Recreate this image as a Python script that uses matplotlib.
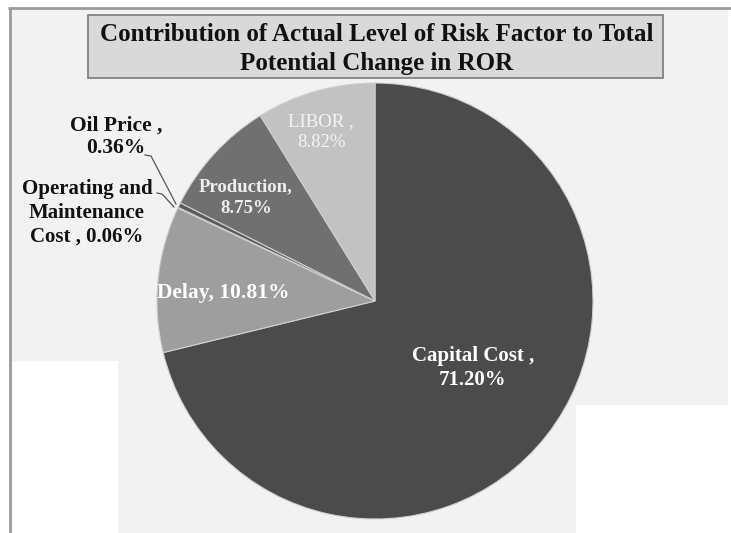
import matplotlib
matplotlib.use("Agg")
import matplotlib.pyplot as plt
from matplotlib.patches import Rectangle, Polygon

# ---- data ----
categories = ["Capital Cost", "Delay", "Operating and Maintenance Cost", "Oil Price", "Production", "LIBOR"]
values = [71.20, 10.81, 0.06, 0.36, 8.75, 8.82]
title = "Contribution of Actual Level of Risk Factor to Total\nPotential Change in ROR"

colors = ["#4b4b4b", "#9e9e9e", "#5a5a5a", "#5a5a5a", "#707070", "#c2c2c2"]

W, H = 731, 533
fig = plt.figure(figsize=(W / 100, H / 100), dpi=100)
ax = fig.add_axes([0, 0, 1, 1])
ax.set_xlim(0, W)
ax.set_ylim(0, H)
ax.axis("off")

def Y(y):  # pixel row -> data y
    return H - y

# background panel
bg = Polygon([(10, Y(9)), (728, Y(9)), (728, Y(405)), (576, Y(405)), (576, Y(533)),
              (118, Y(533)), (118, Y(361)), (12, Y(361)), (12, Y(533)), (10, Y(533))],
             closed=True, facecolor="#f2f2f2", edgecolor="none", zorder=0)
ax.add_patch(bg)
ax.plot([8, 731], [Y(8), Y(8)], color="#9a9a9a", lw=2, zorder=1, solid_capstyle="butt")
ax.plot([10, 10], [Y(8), Y(533)], color="#9a9a9a", lw=2, zorder=1, solid_capstyle="butt")

# title box
ax.add_patch(Rectangle((88, Y(78)), 575, 63, facecolor="#d9d9d9", edgecolor="#7a7a7a", lw=1.2, zorder=2))
ax.text(377, Y(49), title, ha="center", va="center", fontsize=18, fontweight="bold",
        family="Liberation Serif", color="#111111", linespacing=1.3, zorder=3)

# pie
cx, cy, r = 375, Y(301), 218
wedges, _ = ax.pie(values, colors=colors, startangle=90, counterclock=False,
                   center=(cx, cy), radius=r, frame=True,
                   wedgeprops=dict(edgecolor="#cfcfcf", linewidth=0.8))
for w in wedges:
    w.set_zorder(4)
ax.set_xlim(0, W)
ax.set_ylim(0, H)
ax.axis("off")

serif = "Liberation Serif"
# inner labels
ax.text(473, Y(368), f"{categories[0]} ,\n{values[0]:.2f}%", ha="center", va="center",
        fontsize=15, fontweight="bold", family=serif, color="white", zorder=6, linespacing=1.3)
ax.text(223, Y(293), f"{categories[1]}, {values[1]:.2f}%", ha="center", va="center",
        fontsize=15.5, fontweight="bold", family=serif, color="white", zorder=6)
ax.text(246, Y(198), f"{categories[4]},\n{values[4]:.2f}%", ha="center", va="center",
        fontsize=13.5, fontweight="bold", family=serif, color="#eeeeee", zorder=6, linespacing=1.35)
ax.text(321, Y(132), f"{categories[5]} ,\n{values[5]:.2f}%", ha="center", va="center",
        fontsize=13.5, family=serif, color="#f4f4f4", zorder=6, linespacing=1.35)

# outer labels
ax.text(116, Y(137), f"{categories[3]} ,\n{values[3]:.2f}%", ha="center", va="center",
        fontsize=15.5, fontweight="bold", family=serif, color="#111111", zorder=6, linespacing=1.15)
ax.text(87, Y(213), "Operating and\nMaintenance\nCost , " + f"{values[2]:.2f}%", ha="center", va="center",
        fontsize=15, fontweight="bold", family=serif, color="#111111", zorder=6, linespacing=1.25)

# leader lines
ax.plot([145, 151, 176], [Y(155), Y(156), Y(204)], color="#555555", lw=0.9, zorder=5)
ax.plot([157, 162, 174], [Y(193), Y(194), Y(207)], color="#555555", lw=0.9, zorder=5)

fig.savefig("out.png", dpi=100)
